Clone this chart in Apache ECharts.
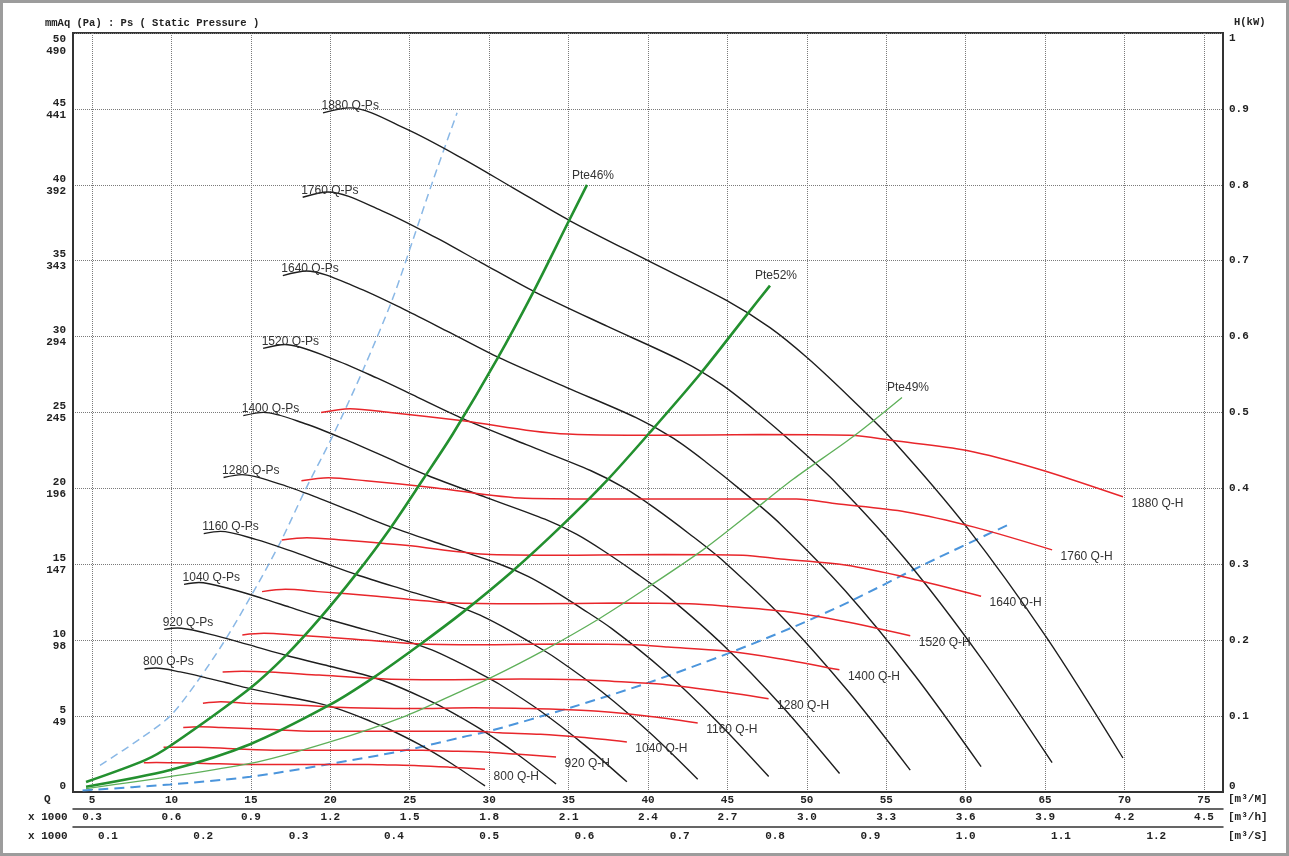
<!DOCTYPE html>
<html>
<head>
<meta charset="utf-8">
<script src="https://cdn.jsdelivr.net/npm/echarts@6/dist/echarts.min.js"></script>
<style>
  html, body { margin: 0; padding: 0; background: #fff; }
  #chart { position: absolute; left: 0; top: 0; width: 1289px; height: 856px; }
  #frame { position: absolute; left: 0; top: 0; width: 1289px; height: 856px; box-sizing: border-box;
           border: 3px solid #9c9c9c; pointer-events: none; }
</style>
</head>
<body>
<div id="chart"></div>
<div id="frame"></div>
<script>
// ---- axis ticks ----
const qTicks = [5, 10, 15, 20, 25, 30, 35, 40, 45, 50, 55, 60, 65, 70, 75];            // m3/min
const m3hTicks = [0.3, 0.6, 0.9, 1.2, 1.5, 1.8, 2.1, 2.4, 2.7, 3.0, 3.3, 3.6, 3.9, 4.2, 4.5]; // x1000 m3/h
const m3sTicks = [0.1, 0.2, 0.3, 0.4, 0.5, 0.6, 0.7, 0.8, 0.9, 1.0, 1.1, 1.2];       // m3/s
const mmAqTicks = [0, 5, 10, 15, 20, 25, 30, 35, 40, 45, 50];
const paLabels = ['', '49', '98', '147', '196', '245', '294', '343', '392', '441', '490'];

// ---- static pressure curves [Q m3/min, Ps mmAq] ----
const ps800  = [[8.30,8.10],[9.02,8.17],[10.55,7.91],[12.08,7.55],[13.40,7.21],[14.94,6.81],[17.02,6.34],[19.15,5.87],[20.30,5.54],[21.28,5.18],[22.42,4.71],[23.57,4.20],[25.57,3.15],[27.70,1.83],[29.74,0.40]];
const ps920  = [[9.54,10.71],[10.38,10.80],[12.14,10.47],[13.89,9.99],[15.42,9.53],[17.18,9.01],[19.58,8.38],[22.02,7.76],[23.34,7.33],[24.47,6.85],[25.79,6.23],[27.11,5.56],[29.41,4.17],[31.86,2.42],[34.21,0.53]];
const ps1040 = [[10.79,13.68],[11.73,13.80],[13.72,13.37],[15.71,12.76],[17.43,12.18],[19.42,11.51],[22.13,10.71],[24.89,9.91],[26.39,9.36],[27.66,8.75],[29.15,7.96],[30.65,7.10],[33.25,5.32],[36.01,3.09],[38.67,0.67]];
const ps1160 = [[12.03,17.02],[13.08,17.17],[15.30,16.64],[17.52,15.88],[19.44,15.15],[21.66,14.31],[24.68,13.32],[27.77,12.33],[29.43,11.65],[30.85,10.89],[32.52,9.90],[34.18,8.83],[37.08,6.62],[40.17,3.85],[43.13,0.84]];
const ps1280 = [[13.28,20.72],[14.44,20.91],[16.89,20.26],[19.34,19.33],[21.45,18.45],[23.90,17.43],[27.24,16.23],[30.64,15.02],[32.48,14.19],[34.05,13.26],[35.88,12.05],[37.72,10.76],[40.92,8.07],[44.32,4.68],[47.60,1.02]];
const ps1400 = [[14.52,24.79],[15.79,25.01],[18.47,24.24],[21.15,23.13],[23.46,22.07],[26.14,20.85],[29.79,19.41],[33.51,17.97],[35.52,16.97],[37.24,15.86],[39.25,14.42],[41.26,12.87],[44.76,9.65],[48.48,5.60],[52.06,1.22]];
const ps1520 = [[15.77,29.22],[17.14,29.48],[20.05,28.57],[22.96,27.26],[25.47,26.02],[28.38,24.58],[32.34,22.88],[36.38,21.18],[38.57,20.00],[40.43,18.70],[42.61,17.00],[44.79,15.17],[48.59,11.37],[52.63,6.60],[56.51,1.44]];
const ps1640 = [[17.01,34.02],[18.49,34.32],[21.63,33.26],[24.77,31.73],[27.48,30.29],[30.62,28.61],[34.89,26.64],[39.25,24.66],[41.61,23.29],[43.62,21.76],[45.97,19.79],[48.33,17.66],[52.43,13.24],[56.79,7.69],[60.97,1.67]];
const ps1760 = [[18.26,39.18],[19.85,39.53],[23.22,38.30],[26.59,36.55],[29.49,34.88],[32.86,32.95],[37.45,30.67],[42.13,28.40],[44.66,26.82],[46.81,25.07],[49.34,22.79],[51.87,20.33],[56.27,15.25],[60.95,8.85],[65.44,1.93]];
const ps1880 = [[19.54,44.74],[21.24,45.07],[24.77,43.68],[28.36,41.71],[31.50,39.80],[35.09,37.63],[40.00,35.00],[44.97,32.37],[47.68,30.59],[50.01,28.62],[52.71,25.99],[55.42,23.16],[60.08,17.43],[65.12,10.13],[69.90,2.24]];

// ---- shaft power curves [Q m3/min, kW] ----
const h800  = [[8.26,0.0385],[9.04,0.0389],[10.11,0.0385],[12.06,0.0377],[14.66,0.0363],[17.34,0.0362],[20.02,0.0363],[22.43,0.0362],[23.58,0.0357],[25.56,0.0347],[27.52,0.0327],[29.74,0.0300]];
const h920  = [[9.50,0.059],[10.39,0.059],[11.63,0.059],[13.87,0.057],[16.86,0.055],[19.94,0.055],[23.03,0.055],[25.80,0.055],[27.12,0.054],[29.40,0.053],[31.65,0.050],[34.21,0.046]];
const h1040 = [[10.74,0.085],[11.75,0.086],[13.14,0.085],[15.68,0.083],[19.06,0.080],[22.54,0.080],[26.03,0.080],[29.16,0.080],[30.66,0.078],[33.24,0.076],[35.78,0.072],[38.67,0.066]];
const h1160 = [[11.98,0.117],[13.10,0.119],[14.66,0.117],[17.49,0.115],[21.26,0.111],[25.14,0.110],[29.03,0.111],[32.52,0.110],[34.19,0.109],[37.07,0.106],[39.90,0.100],[43.13,0.091]];
const h1280 = [[13.22,0.158],[14.46,0.159],[16.18,0.158],[19.30,0.154],[23.46,0.149],[27.75,0.148],[32.04,0.149],[35.89,0.148],[37.73,0.146],[40.91,0.142],[44.03,0.134],[47.59,0.123]];
const h1400 = [[14.46,0.207],[15.82,0.209],[17.69,0.207],[21.11,0.202],[25.66,0.195],[30.35,0.194],[35.04,0.195],[39.25,0.194],[41.26,0.191],[44.74,0.186],[48.16,0.176],[52.05,0.161]];
const h1520 = [[15.70,0.264],[17.17,0.267],[19.21,0.264],[22.92,0.258],[27.86,0.249],[32.95,0.248],[38.04,0.249],[42.61,0.248],[44.81,0.245],[48.57,0.238],[52.29,0.225],[56.51,0.206]];
const h1640 = [[16.94,0.332],[18.53,0.335],[20.73,0.332],[24.73,0.325],[30.06,0.313],[35.55,0.312],[41.04,0.313],[45.98,0.312],[48.34,0.307],[52.41,0.299],[56.41,0.282],[60.97,0.258]];
const h1760 = [[18.18,0.410],[19.88,0.414],[22.24,0.410],[26.54,0.401],[32.26,0.387],[38.15,0.386],[44.05,0.386],[49.35,0.386],[51.74,0.380],[56.25,0.369],[60.54,0.349],[65.44,0.319]];
const h1880 = [[19.42,0.500],[21.24,0.505],[23.76,0.500],[28.35,0.489],[34.46,0.472],[40.75,0.470],[47.05,0.471],[52.71,0.470],[55.42,0.463],[60.08,0.450],[64.67,0.425],[69.90,0.389]];

// ---- efficiency lines [Q m3/min, Ps mmAq] ----
const pte46 = [[4.62,0.66],[8.34,2.10],[9.91,3.03],[14.95,6.84],[17.21,9.00],[19.35,11.45],[21.62,14.35],[23.76,17.35],[25.84,20.60],[27.72,23.60],[30.49,28.50],[32.76,32.90],[34.96,37.50],[36.16,40.00]];
const pte52 = [[4.62,0.35],[9.91,1.45],[14.95,3.15],[19.98,5.75],[22.69,7.52],[25.65,9.72],[28.35,11.85],[31.50,14.58],[34.46,17.43],[37.42,20.53],[40.13,23.70],[43.27,27.52],[46.23,31.45],[47.68,33.36]];
const pte49 = [[4.62,0.22],[14.95,1.88],[19.98,3.30],[24.77,5.02],[28.35,6.70],[30.05,7.50],[33.39,9.30],[36.98,11.45],[39.94,13.45],[43.46,15.95],[46.23,18.20],[49.13,20.60],[52.90,23.40],[55.99,25.99]];

// ---- system resistance lines [Q m3/min, Ps mmAq] ----
const sysHigh = [[5.50,1.75],[8.02,3.50],[9.91,5.00],[11.55,7.17],[13.25,9.80],[14.95,12.80],[16.83,16.40],[18.47,20.00],[20.17,23.50],[22.06,27.80],[23.95,32.57],[25.21,36.40],[26.47,40.30],[27.98,44.74]];
const sysLow  = [[4.40,0.10],[9.91,0.50],[14.95,1.00],[19.98,1.85],[24.77,2.76],[28.35,3.62],[30.05,4.02],[35.09,5.55],[39.94,7.17],[44.97,9.10],[49.13,10.86],[52.71,12.55],[57.31,14.95],[62.60,17.57]];

const speeds = [800, 920, 1040, 1160, 1280, 1400, 1520, 1640, 1760, 1880];
const psSets = [ps800, ps920, ps1040, ps1160, ps1280, ps1400, ps1520, ps1640, ps1760, ps1880];
const hSets  = [h800, h920, h1040, h1160, h1280, h1400, h1520, h1640, h1760, h1880];

const Q_MIN = 3.8, Q_MAX = 76.2;
const AXIS_FONT = { fontFamily: 'Liberation Mono', fontWeight: 'bold', fontSize: 11, color: '#222' };
const CURVE_FONT = { fontFamily: 'Liberation Sans', fontSize: 12, color: '#333' };

function pointLabel(coord, text, position, offset) {
  return {
    symbol: 'circle', symbolSize: 1, silent: true,
    itemStyle: { color: 'rgba(0,0,0,0)' },
    label: Object.assign({ show: true, position: position, distance: 0, offset: offset, formatter: text }, CURVE_FONT),
    data: [{ coord: coord }]
  };
}

const series = [];

// system resistance (dashed blue)
series.push({ type: 'line', data: sysHigh, smooth: 0.3, symbol: 'none', silent: true, z: 2,
  lineStyle: { color: '#8ab8e6', width: 1.5, type: [8, 5] } });
series.push({ type: 'line', data: sysLow, smooth: 0.3, symbol: 'none', silent: true, z: 2,
  lineStyle: { color: '#4b95dc', width: 2, type: [10, 6] } });

// static pressure curves
speeds.forEach((n, i) => {
  const d = psSets[i];
  series.push({ type: 'line', name: n + ' Q-Ps', data: d, smooth: 0.3, symbol: 'none', z: 3,
    lineStyle: { color: '#1e1e1e', width: 1.4 },
    markPoint: pointLabel(d[0], n + ' Q-Ps', 'right', [-2, -7]) });
});

// shaft power curves (right axis)
speeds.forEach((n, i) => {
  const d = hSets[i];
  series.push({ type: 'line', name: n + ' Q-H', data: d, yAxisIndex: 1, smooth: 0.3, symbol: 'none', z: 4,
    lineStyle: { color: '#e8262b', width: 1.5 },
    markPoint: pointLabel(d[d.length - 1], n + ' Q-H', 'right', [8, 7]) });
});

// efficiency lines
[[pte46, 'Pte46%', '#23902f', 2.6], [pte52, 'Pte52%', '#23902f', 2.6], [pte49, 'Pte49%', '#5fb05a', 1.3]]
  .forEach(([d, name, color, w]) => {
    series.push({ type: 'line', name: name, data: d, smooth: 0.3, symbol: 'none', z: 5,
      lineStyle: { color: color, width: w },
      markPoint: pointLabel(d[d.length - 1], name, 'top', [6, -3]) });
  });

const chart = echarts.init(document.getElementById('chart'), null, { renderer: 'canvas' });
chart.setOption({
  animation: false,
  backgroundColor: '#fff',
  title: [
    { text: 'mmAq (Pa) : Ps ( Static Pressure )', left: 40, top: 13,
      textStyle: Object.assign({}, AXIS_FONT, { fontSize: 10.5 }) },
    { text: 'H(kW)', left: 1229, top: 12, textStyle: Object.assign({}, AXIS_FONT, { fontSize: 10.5 }) }
  ],
  grid: { left: 73, right: 66, top: 33, bottom: 64, show: true, borderColor: '#333', borderWidth: 2,
          backgroundColor: 'transparent' },
  xAxis: [
    { type: 'value', min: Q_MIN, max: Q_MAX, position: 'bottom',
      axisLine: { show: true, lineStyle: { color: '#333', width: 2 } },
      axisTick: { show: false, customValues: qTicks },
      axisLabel: Object.assign({ customValues: qTicks, margin: 3 }, AXIS_FONT),
      splitLine: { show: true, lineStyle: { color: '#7a7a7a', type: [1, 1], width: 1 } } },
    { type: 'value', min: Q_MIN * 0.06, max: Q_MAX * 0.06, position: 'bottom', offset: 17,
      axisLine: { show: true, onZero: false, lineStyle: { color: '#333', width: 1.5 } },
      axisTick: { show: false, customValues: m3hTicks },
      axisLabel: Object.assign({ customValues: m3hTicks, margin: 3, formatter: v => v.toFixed(1) }, AXIS_FONT),
      splitLine: { show: false } },
    { type: 'value', min: Q_MIN / 60, max: Q_MAX / 60, position: 'bottom', offset: 35,
      axisLine: { show: true, onZero: false, lineStyle: { color: '#333', width: 1.5 } },
      axisTick: { show: false, customValues: m3sTicks },
      axisLabel: Object.assign({ customValues: m3sTicks, margin: 4, formatter: v => v.toFixed(1) }, AXIS_FONT),
      splitLine: { show: false } }
  ],
  yAxis: [
    { type: 'value', min: 0, max: 50, interval: 5, position: 'left',
      axisLine: { show: true, lineStyle: { color: '#333', width: 2 } },
      axisTick: { show: false },
      axisLabel: Object.assign({ margin: 7, lineHeight: 12, verticalAlignMaxLabel: 'top', verticalAlignMinLabel: 'bottom',
        formatter: v => { const i = mmAqTicks.indexOf(v); return paLabels[i] ? v + '\n' + paLabels[i] : String(v); } }, AXIS_FONT),
      splitLine: { show: true, lineStyle: { color: '#7a7a7a', type: [1, 1], width: 1 } } },
    { type: 'value', min: 0, max: 1, interval: 0.1, position: 'right',
      axisLine: { show: true, lineStyle: { color: '#333', width: 2 } },
      axisTick: { show: false },
      axisLabel: Object.assign({ margin: 6, verticalAlignMaxLabel: 'top', verticalAlignMinLabel: 'bottom',
        formatter: v => (v === 0 || v === 1) ? String(v) : v.toFixed(1) }, AXIS_FONT),
      splitLine: { show: false } }
  ],
  graphic: [
    { type: 'text', left: 44, top: 794, style: { text: 'Q', font: 'bold 11px "Liberation Mono"', fill: '#222' } },
    { type: 'text', left: 28, top: 812, style: { text: 'x 1000', font: 'bold 11px "Liberation Mono"', fill: '#222' } },
    { type: 'text', left: 28, top: 831, style: { text: 'x 1000', font: 'bold 11px "Liberation Mono"', fill: '#222' } },
    { type: 'text', left: 1228, top: 794, style: { text: '[m³/M]', font: 'bold 11px "Liberation Mono"', fill: '#222' } },
    { type: 'text', left: 1228, top: 812, style: { text: '[m³/h]', font: 'bold 11px "Liberation Mono"', fill: '#222' } },
    { type: 'text', left: 1228, top: 831, style: { text: '[m³/S]', font: 'bold 11px "Liberation Mono"', fill: '#222' } }
  ],
  series: series
});
</script>
</body>
</html>
